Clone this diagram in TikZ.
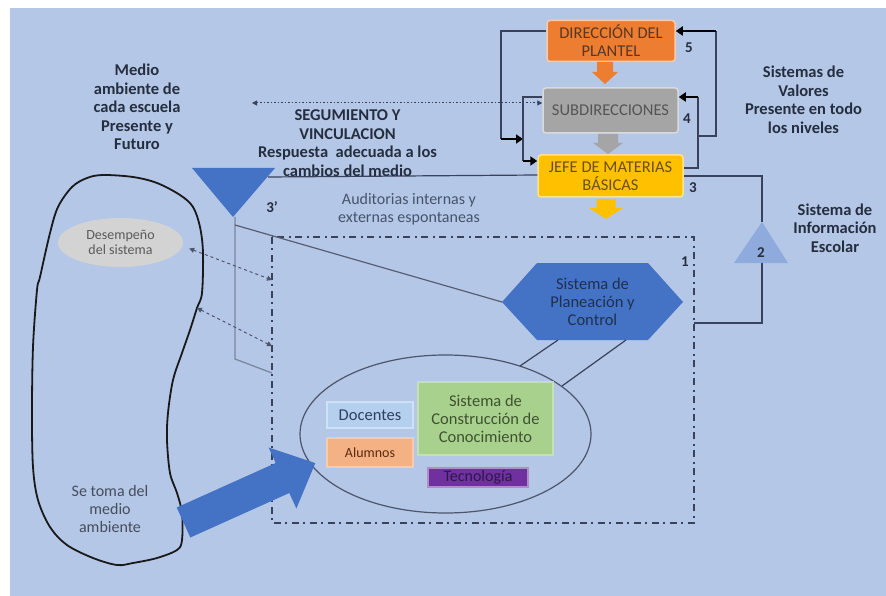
\documentclass[tikz,border=0pt]{standalone}
\usepackage{fontspec}
\setmainfont{Carlito}
\usetikzlibrary{arrows.meta,shapes.geometric}
\definecolor{bgblue}{HTML}{B4C7E7}
\definecolor{lblcol}{HTML}{252E3E}
\definecolor{conncol}{HTML}{39425A}
\definecolor{dirorange}{HTML}{ED7D31}
\definecolor{dirborder}{HTML}{F8CBAD}
\definecolor{dirtext}{HTML}{5C3620}
\definecolor{subgray}{HTML}{A5A5A5}
\definecolor{subborder}{HTML}{DADADA}
\definecolor{subtext}{HTML}{555555}
\definecolor{jefeyellow}{HTML}{FFC000}
\definecolor{jefeborder}{HTML}{FFE38F}
\definecolor{jefetext}{HTML}{6A5010}
\definecolor{midblue}{HTML}{4472C4}
\definecolor{lightblue}{HTML}{8FAADC}
\definecolor{hextext}{HTML}{1F3050}
\definecolor{audtext}{HTML}{44546A}
\definecolor{grayline}{HTML}{7A889E}
\definecolor{desfill}{HTML}{D3D3D3}
\definecolor{destext}{HTML}{5A5A5A}
\definecolor{docfill}{HTML}{B4D0EE}
\definecolor{docborder}{HTML}{CFE2F5}
\definecolor{doctext}{HTML}{2F3F5F}
\definecolor{alufill}{HTML}{F4B183}
\definecolor{aluborder}{HTML}{F8CBAD}
\definecolor{alutext}{HTML}{5A2A10}
\definecolor{sccfill}{HTML}{A9D18E}
\definecolor{sccborder}{HTML}{C5E0B4}
\definecolor{scctext}{HTML}{3E5230}
\definecolor{tecfill}{HTML}{7030A0}
\definecolor{tecborder}{HTML}{B08CC8}
\definecolor{tectext}{HTML}{2A1A48}
\tikzset{
  lbl/.style={font=\bfseries\fontsize{16.5}{18.5}\selectfont, text=lblcol, align=center, inner sep=0pt},
  numlbl/.style={font=\bfseries\fontsize{15}{17}\selectfont, text=lblcol, inner sep=0pt},
  boxt/.style={rounded corners=3pt, line width=1.5pt, align=center, inner sep=0pt, font=\fontsize{16.5}{18}\selectfont},
  inbox/.style={line width=1.2pt, align=center, inner sep=0pt},
  conn/.style={draw=conncol, line width=1.2pt},
  thickend/.style={draw=black, line width=2.4pt, -{Triangle[length=7pt,width=9pt]}},
  dotarrow/.style={draw=conncol, line width=1pt, dash pattern=on 1.5pt off 2pt, {Triangle[length=5pt,width=5pt]}-{Triangle[length=5pt,width=5pt]}},
  dasharrow/.style={draw=conncol!90!white, line width=1pt, dash pattern=on 3pt off 3pt, {Triangle[length=5pt,width=5pt]}-{Triangle[length=5pt,width=5pt]}},
  dashdotframe/.style={draw=conncol, line width=1.6pt, dash pattern=on 7pt off 4pt on 2pt off 5pt},
  gline/.style={draw=grayline, line width=1.3pt},
}
\begin{document}
\begin{tikzpicture}[x=1pt,y=-1pt]
\useasboundingbox (0,0) rectangle (886,596);
\fill[white] (0,0) rectangle (886,596);
\fill[bgblue] (10,8) rectangle (886,596);

% dash-dot frame
\coordinate (rtl) at (272,237);
\coordinate (rbr) at (694,523);
\draw[dashdotframe] (rtl) rectangle (rbr);

% hierarchy boxes
\node[boxt, fill=dirorange, draw=dirborder, text=dirtext, minimum width=128pt, minimum height=41pt] (dir) at (611,41) {DIRECCIÓN DEL\\PLANTEL};
\node[boxt, fill=subgray, draw=subborder, text=subtext, minimum width=135pt, minimum height=45pt] (sub) at (610.5,110.5) {SUBDIRECCIONES};
\node[boxt, fill=jefeyellow, draw=jefeborder, text=jefetext, minimum width=145pt, minimum height=42pt] (jefe) at (610.5,176) {JEFE DE MATERIAS\\BÁSICAS};

% block arrows down
\fill[dirorange] (597,62) -- (613,62) -- (613,72) -- (618,72) -- (605,84) -- (592,72) -- (597,72) -- cycle;
\fill[subgray] (598,134) -- (618,134) -- (618,143) -- (623,143) -- (608,154) -- (593,143) -- (598,143) -- cycle;
\fill[jefeyellow] (596.5,199) -- (615.5,199) -- (615.5,208) -- (623,208) -- (606,219) -- (589,208) -- (596.5,208) -- cycle;

% numbers
\node[numlbl] (n5) at (689,48) {5};
\node[numlbl] (n4) at (687,119) {4};
\node[numlbl] (n3) at (693,188) {3};
\node[numlbl] (n1) at (685,262) {1};

% feedback loops
\coordinate (la) at (501,139);
\coordinate (lb) at (523,139);
\coordinate (lc) at (523,161);
\draw[conn] ([yshift=10pt]dir.west) -| (la);
\draw[thickend] (la) -- (lb);
\draw[conn] ([yshift=13.5pt]sub.west) -| (lc);
\draw[thickend] (lc) -- ([yshift=15pt]jefe.west);
\coordinate (rc) at (698,97);
\coordinate (rd0) at (698,136);
\coordinate (rd) at (716,31);
\draw[conn] ([yshift=8pt]jefe.east) -| (rc);
\draw[thickend] (rc) -- ([yshift=13.5pt]sub.east);
\draw[conn] (rd0) -| (rd);
\draw[thickend] (rd) -- ([yshift=10pt]dir.east);

% dotted arrow to environment
\coordinate (medarr) at (252,103);
\draw[dotarrow] (medarr) -- ([yshift=7.5pt]sub.west);

% triangle 3'
\fill[midblue] (192,168) coordinate (t3a) -- (275,168) coordinate (t3b) -- (233,217) coordinate (t3apex) -- cycle;
\coordinate (t3r) at (268,177);
\draw[conn] (t3r) -- ([yshift=1pt]jefe.west);
\node[numlbl] (n3p) at (272,207) {3'};

% triangle 2
\fill[lightblue] (734,263) coordinate (t2l) -- (788,263) coordinate (t2r) -- (762,222) coordinate (t2top) -- cycle;
\coordinate (t2bot) at (762,263);
\node[numlbl] (n2) at (761,253) {2};
\coordinate (rright) at (694,323);
\draw[conn] (jefe.east) -| (t2top);
\draw[conn] (t2bot) |- (rright);

% gray lines from 3'
\coordinate (g0) at (235,217);
\coordinate (g1) at (235,359);
\coordinate (g2) at (272,373);
\draw[gline] (g0) -- (g1) -- (g2);

% hexagon
\fill[midblue] (502,302) coordinate (hexW) -- (537,263) -- (648,263) -- (683,302) coordinate (hexE) -- (648,340) -- (537,340) -- cycle;
\node[font=\fontsize{16.5}{18}\selectfont, text=hextext, align=center, inner sep=0pt] (hex) at (592.5,302) {Sistema de\\Planeación y\\Control};
\coordinate (g3) at (235,225);
\draw[draw=conncol!85!white, line width=1.2pt] (g3) -- (hexW);

% big ellipse
\node[ellipse, draw=conncol!90!white, line width=1.2pt, minimum width=291pt, minimum height=158pt, inner sep=0pt] (sys) at (445.5,434) {};
\coordinate (h1) at (558,340);
\coordinate (e1) at (520,366);
\coordinate (h2) at (626,340);
\coordinate (e2) at (562,386);
\draw[conn] (h1) -- (e1);
\draw[conn] (h2) -- (e2);

% inner boxes
\node[inbox, fill=docfill, draw=docborder, text=doctext, minimum width=86pt, minimum height=26pt, font=\fontsize{16.5}{18}\selectfont] (doc) at (370,415) {Docentes};
\node[inbox, fill=alufill, draw=aluborder, text=alutext, minimum width=86pt, minimum height=29pt, font=\fontsize{14}{16}\selectfont] (alu) at (370,452.5) {Alumnos};
\node[inbox, fill=sccfill, draw=sccborder, text=scctext, minimum width=135pt, minimum height=73pt, font=\fontsize{16.5}{18}\selectfont] (scc) at (485.5,418.5) {Sistema de\\Construcción de\\Conocimiento};
\node[inbox, fill=tecfill, draw=tecborder, text=tectext, minimum width=100pt, minimum height=19pt, font=\fontsize{16}{18}\selectfont] (tec) at (478,477.5) {Tecnología};

% desempeno
\node[ellipse, fill=desfill, minimum width=125pt, minimum height=49pt, inner sep=0pt, text=destext, align=center, font=\fontsize{14}{15.5}\selectfont] (des) at (120.5,242.5) {Desempeño\\del sistema};

% blob
\draw[black!90, line width=1.8pt] plot[smooth cycle, tension=0.55] coordinates {
 (58,207) (72,187) (87,178) (103,175) (133,177) (157,183) (180,195) (193,207) (200,227) (203,253) (202,293)
 (197,308) (190,330) (182,353) (173,380) (168,413) (167,440) (170,473) (177,493) (182,513) (182,540) (177,550)
 (157,558) (133,563) (117,565) (93,558) (67,545) (50,527) (38,500) (33,467) (32,413) (33,347) (37,290) (40,277) (50,233)};
\coordinate (b1) at (197,308);

% dashed arrows
\coordinate (d1) at (272,280);
\coordinate (d2) at (272,346);
\draw[dasharrow] ([shift={(6pt,-6pt)}]des.east) -- (d1);
\draw[dasharrow] (b1) -- (d2);

% big blue arrow
\fill[midblue] (176.7,507.5) coordinate (ba0) -- (275.7,463.0) -- (268.6,447.5) -- (315.3,463.1) coordinate (batip) -- (296.4,508.5) -- (289.3,493.0) -- (190.3,537.5) -- cycle;

% labels
\node[lbl] (medio) at (137,107) {Medio\\ambiente de\\cada escuela\\Presente y\\Futuro};
\node[lbl] (seg) at (347.5,143) {SEGUMIENTO Y\\VINCULACION\\Respuesta \ adecuada a los\\cambios del medio};
\node[font=\fontsize{16}{18}\selectfont, text=audtext, align=center, inner sep=0pt] (aud) at (409,209) {Auditorias internas y\\externas espontaneas};
\node[lbl] (valores) at (803.5,100) {Sistemas de\\Valores\\Presente en todo\\los niveles};
\node[lbl] (info) at (835,228) {Sistema de\\Información\\Escolar};
\node[font=\fontsize{16}{18}\selectfont, text=lblcol!85!white, align=center, inner sep=0pt] (toma) at (110,509) {Se toma del\\medio\\ambiente};
\end{tikzpicture}
\end{document}
